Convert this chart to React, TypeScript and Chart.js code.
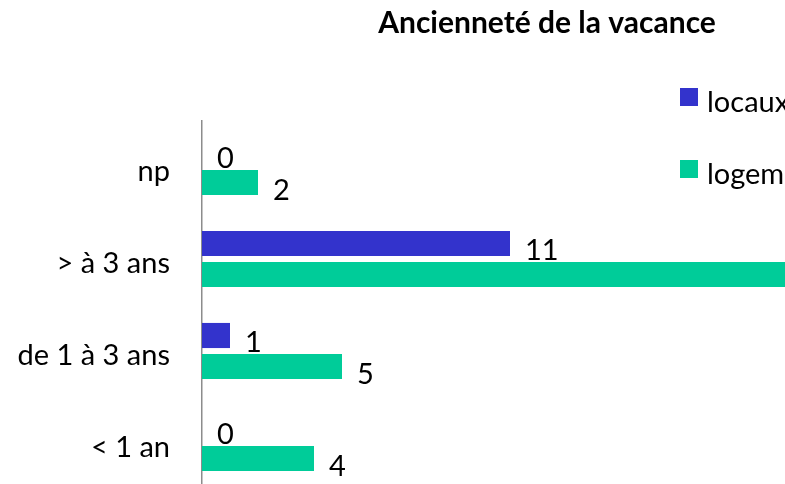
import React, { useEffect, useRef } from "react";
import { Chart, registerables } from "chart.js";

Chart.register(...registerables);

const chartTitle = "Ancienneté de la vacance";
const categories = ["np", "> à 3 ans", "de 1 à 3 ans", "< 1 an"];
const seriesNames = ["locaux", "logements"];
const locaux = [0, 11, 1, 0];
const logements = [2, 22, 5, 4];
const seriesColors = ["#3333CC", "#00CC99"];
const xMin = 0;
const xMax = 25;

const FONT = "Lato, 'Open Sans', sans-serif";
const FS = 29;
const TITLE_FS = 30;
const W = 1100;
const H = 500;
const PLOT_LEFT = 202;
const PLOT_TOP = 121;
const PLOT_BOTTOM = 489;
const PX_PER_UNIT = 28;

const valueLabels = {
  id: "valueLabels",
  afterDatasetsDraw(chart: any) {
    const ctx = chart.ctx;
    ctx.save();
    ctx.font = `${FS}px ${FONT}`;
    ctx.fillStyle = "#000000";
    ctx.textAlign = "left";
    ctx.textBaseline = "alphabetic";
    chart.data.datasets.forEach((ds: any, di: number) => {
      const meta = chart.getDatasetMeta(di);
      meta.data.forEach((el: any, i: number) => {
        ctx.fillText(String(ds.data[i]), el.x + 15, el.y + 17);
      });
    });
    ctx.restore();
  },
};

const titleLegend = {
  id: "titleLegend",
  afterDraw(chart: any) {
    const ctx = chart.ctx;
    ctx.save();
    ctx.fillStyle = "#000000";
    ctx.font = `bold ${TITLE_FS}px ${FONT}`;
    ctx.textAlign = "center";
    ctx.textBaseline = "alphabetic";
    ctx.fillText(chartTitle, 547, 33);
    ctx.font = `${FS}px ${FONT}`;
    ctx.textAlign = "left";
    chart.data.datasets.forEach((ds: any, di: number) => {
      const top = 88 + di * 72;
      ctx.fillStyle = ds.backgroundColor;
      ctx.fillRect(680, top, 18, 18);
      ctx.fillStyle = "#000000";
      ctx.fillText(ds.label, 707, top + 24);
    });
    ctx.restore();
  },
};

export default function App() {
  const ref = useRef<HTMLCanvasElement | null>(null);

  useEffect(() => {
    if (!ref.current) return;
    const chart = new Chart(ref.current, {
      type: "bar",
      data: {
        labels: categories,
        datasets: [
          {
            label: seriesNames[0],
            data: locaux,
            backgroundColor: seriesColors[0],
            barPercentage: 0.81,
            categoryPercentage: 0.674,
          },
          {
            label: seriesNames[1],
            data: logements,
            backgroundColor: seriesColors[1],
            barPercentage: 0.81,
            categoryPercentage: 0.674,
          },
        ],
      },
      options: {
        indexAxis: "y",
        responsive: false,
        maintainAspectRatio: false,
        animation: false,
        layout: {
          padding: {
            left: 0,
            top: PLOT_TOP,
            right: W - (PLOT_LEFT + PX_PER_UNIT * (xMax - xMin)),
            bottom: H - PLOT_BOTTOM,
          },
        },
        plugins: {
          legend: { display: false },
          title: { display: false },
          tooltip: { enabled: false },
        },
        scales: {
          x: { display: false, min: xMin, max: xMax },
          y: {
            grid: { display: false, drawTicks: false },
            border: { display: true, color: "#8c8c8c", width: 1.5 },
            ticks: {
              color: "#000000",
              font: { family: FONT, size: FS },
              padding: 32,
              labelOffset: 5,
            },
            afterFit: (scale: any) => {
              scale.width = PLOT_LEFT;
              scale.paddingTop = 0;
              scale.paddingBottom = 0;
            },
          },
        },
      },
      plugins: [valueLabels, titleLegend],
    });
    return () => chart.destroy();
  }, []);

  return (
    <div
      style={{
        position: "fixed",
        left: 0,
        top: 0,
        width: 785,
        height: 484,
        overflow: "hidden",
        background: "#ffffff",
      }}
    >
      <canvas ref={ref} width={W} height={H} style={{ display: "block", width: W, height: H }} />
    </div>
  );
}
